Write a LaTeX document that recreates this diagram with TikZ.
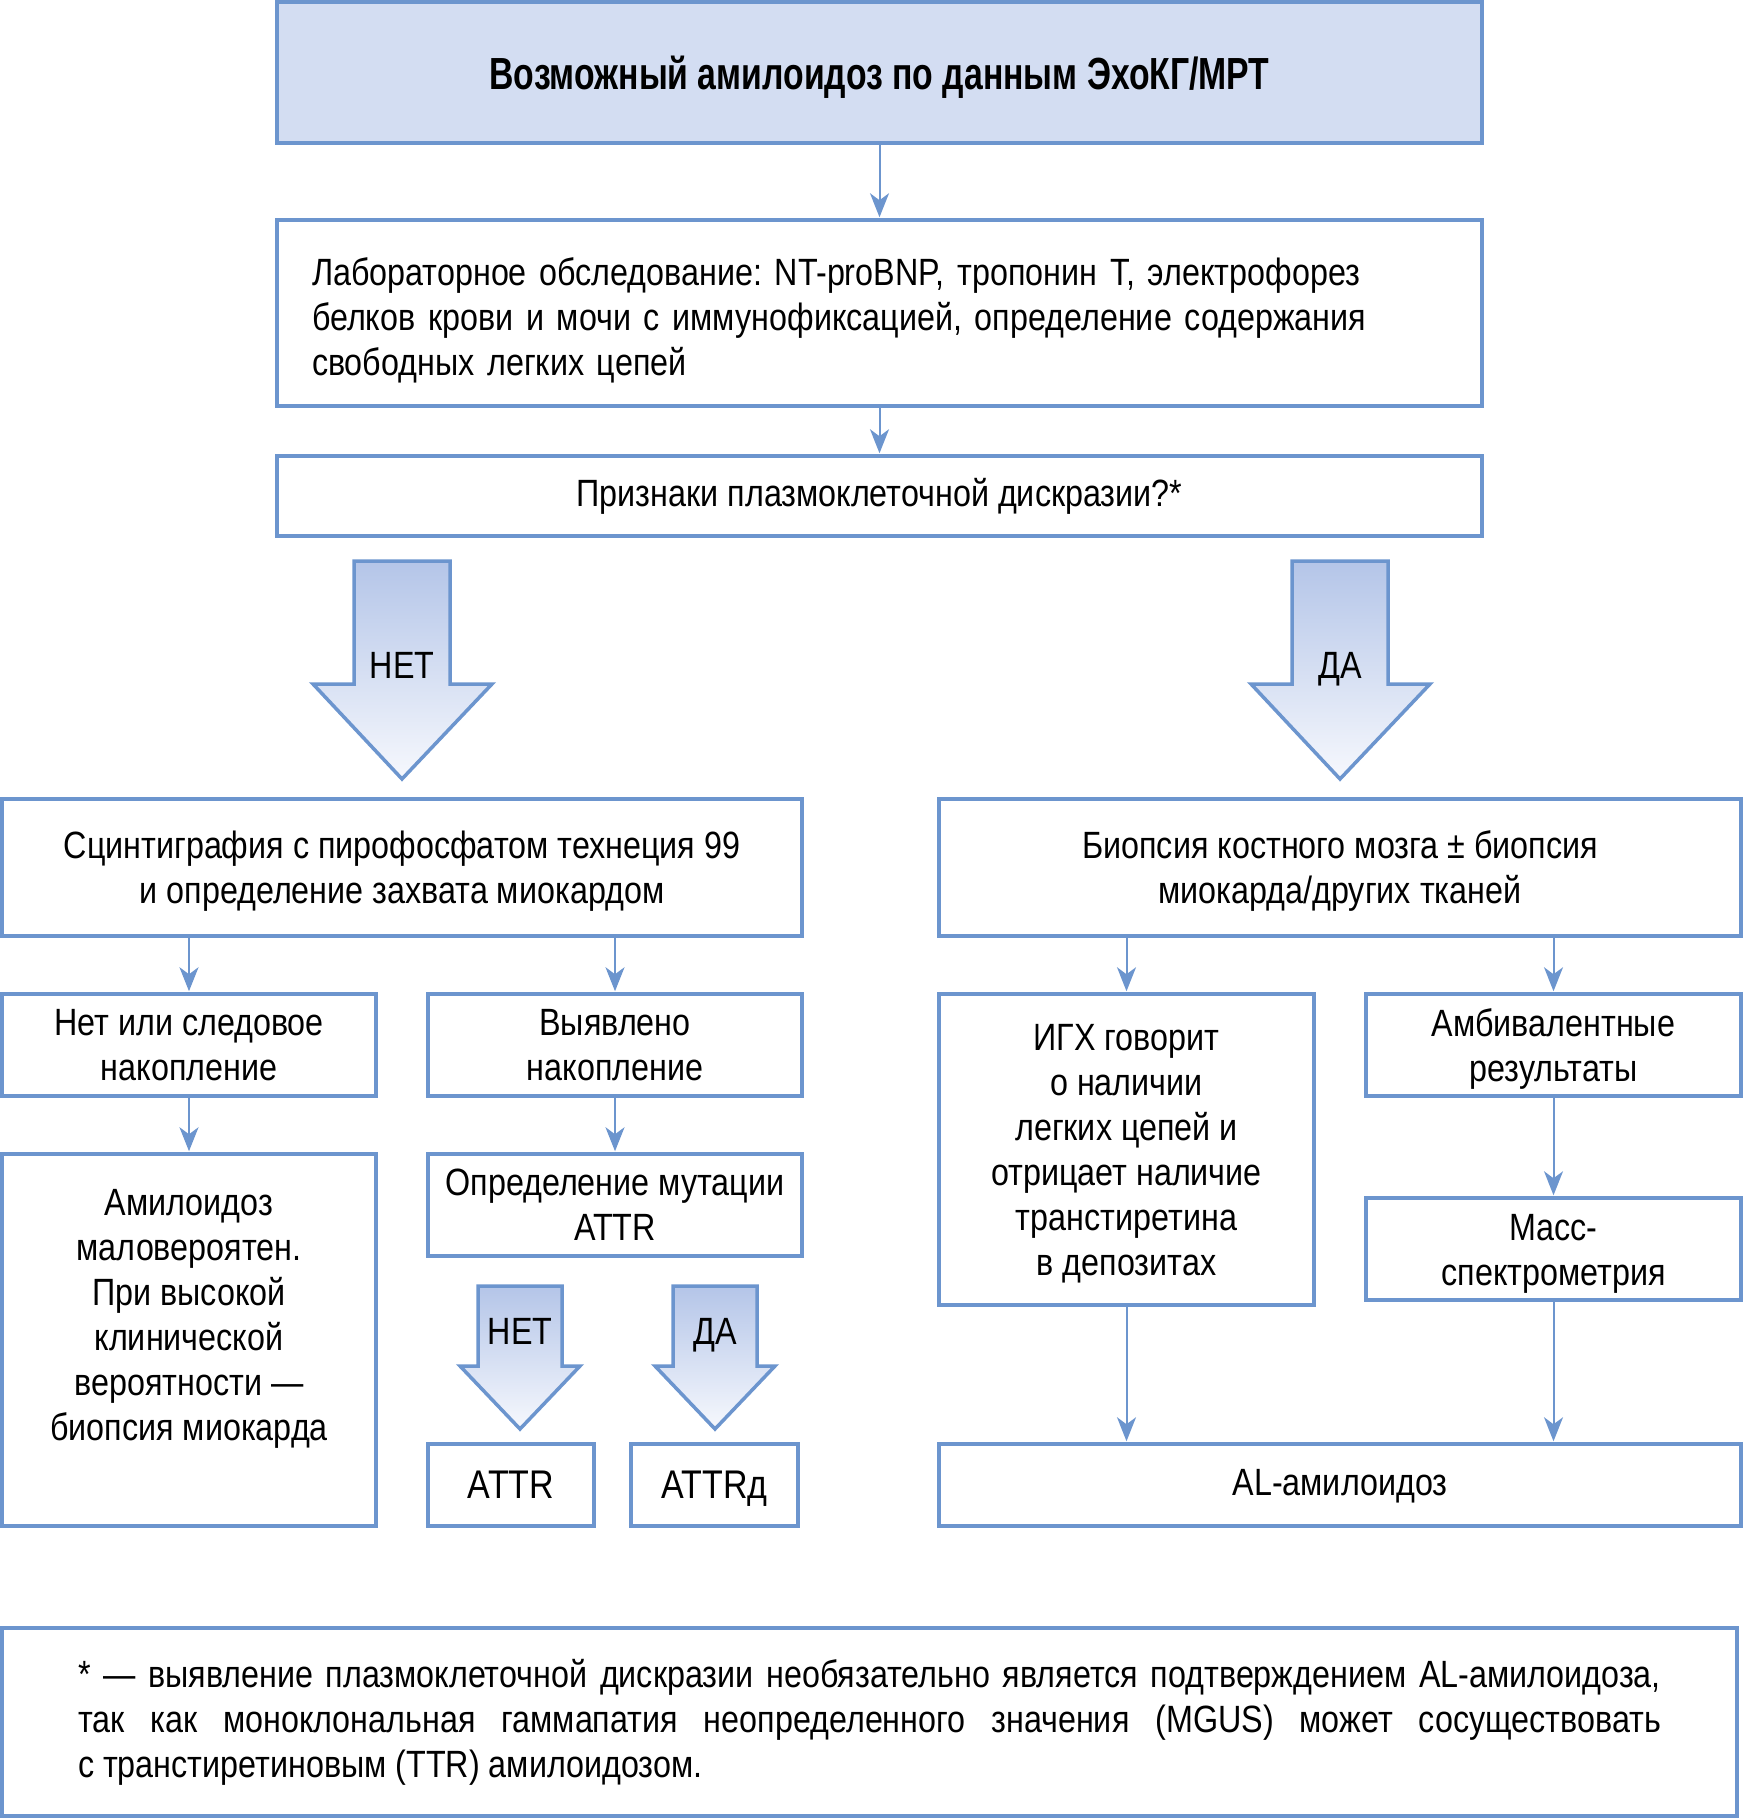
\documentclass[tikz,border=0pt]{standalone}
\usepackage{fontspec}
\setmainfont{Liberation Sans}[FakeStretch=0.85]
\newfontfamily\titlefont{Liberation Sans}[FakeStretch=0.75]
\usetikzlibrary{arrows.meta}
\definecolor{boxblue}{RGB}{108,149,206}
\definecolor{headfill}{RGB}{211,221,242}
\definecolor{arrowtop}{RGB}{180,197,232}
\definecolor{arrowbot}{RGB}{246,248,253}
\frenchspacing
\newcommand\topline{\rule{0pt}{17.5pt}}
\tikzset{
  box/.style={draw=boxblue, line width=1.75pt, inner sep=0pt, align=center, font=\fontsize{19}{22.5}\selectfont},
  oneline/.style={text height=14pt, text depth=4pt},
  conn/.style={draw=boxblue, line width=1pt, -{Stealth[length=12pt,width=9.5pt,inset=3.5pt]}, shorten >=0.5pt},
  fatarrow/.style={draw=boxblue, line width=1.75pt, top color=arrowtop, bottom color=arrowbot, line join=miter},
  arrowlabel/.style={anchor=base, font=\fontsize{19}{22.5}\selectfont}
}
\begin{document}
\begin{tikzpicture}[x=0.5pt,y=-0.5pt]
  \useasboundingbox (0,0) rectangle (1744,1819);
  % top of the scheme
  \node[box, text height=20pt, text depth=2.5pt, fill=headfill, minimum width=602.5pt, minimum height=70.5pt, font=\titlefont\bfseries\fontsize{22.5}{25}\selectfont] (echo) at (879.5,72.5) {Возможный амилоидоз по данным ЭхоКГ/МРТ};
  \node[box, minimum width=602.5pt, minimum height=93pt, text width=567.5pt, inner xsep=17.5pt, align=left] (lab) at (879.5,313) {\rule{0pt}{21pt}Лабораторное обследование: NT-proBNP, тропонин Т, электрофорез\\белков крови и мочи с иммунофиксацией, определение содержания\\свободных легких цепей};
  \node[box, oneline, minimum width=602.5pt, minimum height=40pt] (signs) at (879.5,496) {Признаки плазмоклеточной дискразии?*};
  \draw[conn] (echo) -- (lab);
  \draw[conn] (lab) -- (signs);

  % big arrows
  \draw[fatarrow] (354,561) -- (450,561) -- (450,684) -- (492,684) -- (402,779) -- (313,684) -- (354,684) -- cycle;
  \draw[fatarrow] (1292,561) -- (1388,561) -- (1388,684) -- (1430,684) -- (1340,779) -- (1251,684) -- (1292,684) -- cycle;
  \node[arrowlabel] (no1) at (402,678) {НЕТ};
  \node[arrowlabel] (yes1) at (1340,678) {ДА};

  % left branch
  \node[box, minimum width=400pt, minimum height=68.5pt] (scint) at (402,867.5) {\topline Сцинтиграфия с пирофосфатом технеция 99\\и определение захвата миокардом};
  \node[box, minimum width=187pt, minimum height=51pt] (trace) at (189,1045) {Нет или следовое\\накопление};
  \node[box, minimum width=187pt, minimum height=51pt] (uptake) at (615,1045) {Выявлено\\накопление};
  \node[box, minimum width=187pt, minimum height=186pt] (unlikely) at (189,1340) {\topline Амилоидоз\\маловероятен.\\При высокой\\клинической\\вероятности —\\биопсия миокарда\\[7pt]\mbox{}};
  \node[box, minimum width=187pt, minimum height=51pt] (mut) at (615,1205) {Определение мутации\\ATTR};
  \draw[fatarrow] (478,1286) -- (562,1286) -- (562,1366) -- (580,1366) -- (520,1429) -- (460,1366) -- (478,1366) -- cycle;
  \draw[fatarrow] (673,1286) -- (757,1286) -- (757,1366) -- (775,1366) -- (715,1429) -- (655,1366) -- (673,1366) -- cycle;
  \node[arrowlabel] (no2) at (520,1344) {НЕТ};
  \node[arrowlabel] (yes2) at (715,1344) {ДА};
  \node[box, text height=17.5pt, text depth=4pt, minimum width=83pt, minimum height=41pt, font=\fontsize{20}{22.5}\selectfont] (attr) at (511,1485) {ATTR};
  \node[box, text height=17.5pt, text depth=4pt, minimum width=83.5pt, minimum height=41pt, font=\fontsize{20}{22.5}\selectfont] (attrm) at (714.5,1485) {ATTRд};
  \draw[conn] (trace.north |- scint.south) -- (trace.north);
  \draw[conn] (uptake.north |- scint.south) -- (uptake.north);
  \draw[conn] (trace) -- (unlikely);
  \draw[conn] (uptake) -- (mut);

  % right branch
  \node[box, minimum width=401pt, minimum height=68.5pt] (biopsy) at (1340,867.5) {\topline Биопсия костного мозга ± биопсия\\миокарда/других тканей};
  \node[box, minimum width=187.5pt, minimum height=155.5pt] (ihc) at (1126.5,1149.5) {\topline ИГХ говорит\\о наличии\\легких цепей и\\отрицает наличие\\транстиретина\\в депозитах};
  \node[box, minimum width=187.5pt, minimum height=51pt] (ambi) at (1553.5,1045) {\topline Амбивалентные\\результаты};
  \node[box, minimum width=187.5pt, minimum height=51pt] (mass) at (1553.5,1249) {\topline Масс-\\спектрометрия};
  \node[box, oneline, minimum width=401pt, minimum height=41pt] (al) at (1340,1485) {AL-амилоидоз};
  \draw[conn] (ihc.north |- biopsy.south) -- (ihc.north);
  \draw[conn] (ambi.north |- biopsy.south) -- (ambi.north);
  \draw[conn] (ambi) -- (mass);
  \draw[conn] (ihc.south) -- (ihc.south |- al.north);
  \draw[conn] (mass.south) -- (mass.south |- al.north);

  % footnote
  \node[box, minimum width=867.5pt, minimum height=94pt, text width=791.5pt, inner xsep=38pt, align=justify] (note) at (869.5,1722) {* — выявление плазмоклеточной дискразии необязательно является подтверждением AL-амилоидоза,\linebreak так как моноклональная гаммапатия неопределенного значения (MGUS) может сосуществовать\linebreak с транстиретиновым (TTR) амилоидозом.};
\end{tikzpicture}
\end{document}
